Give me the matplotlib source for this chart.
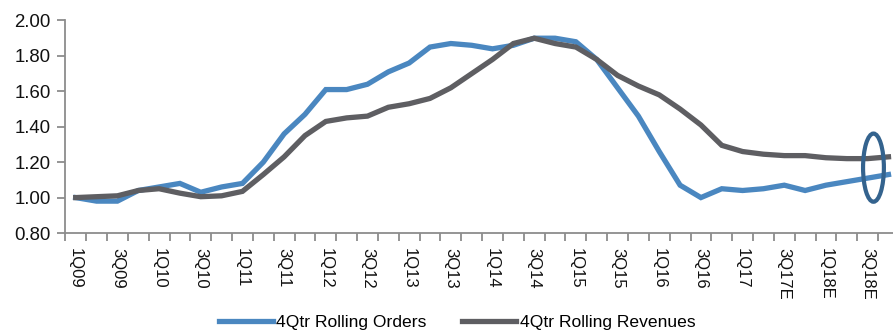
import matplotlib
matplotlib.use("Agg")
import matplotlib.pyplot as plt
from matplotlib.patches import Ellipse
from matplotlib.ticker import FixedLocator, FuncFormatter

plt.rcParams['font.family'] = ['Liberation Sans', 'DejaVu Sans']

# Quarterly categories (E = estimate)
quarters = [
    "1Q09", "2Q09", "3Q09", "4Q09", "1Q10", "2Q10", "3Q10", "4Q10",
    "1Q11", "2Q11", "3Q11", "4Q11", "1Q12", "2Q12", "3Q12", "4Q12",
    "1Q13", "2Q13", "3Q13", "4Q13", "1Q14", "2Q14", "3Q14", "4Q14",
    "1Q15", "2Q15", "3Q15", "4Q15", "1Q16", "2Q16", "3Q16", "4Q16",
    "1Q17", "2Q17", "3Q17E", "4Q17E", "1Q18E", "2Q18E", "3Q18E", "4Q18E",
]

# 4-quarter rolling orders, indexed to 1Q09 = 1.00
orders = [
    1.00, 0.98, 0.98, 1.04, 1.06, 1.08, 1.03, 1.06,
    1.08, 1.20, 1.36, 1.47, 1.61, 1.61, 1.64, 1.71,
    1.76, 1.85, 1.87, 1.86, 1.84, 1.86, 1.90, 1.90,
    1.88, 1.78, 1.62, 1.46, 1.26, 1.07, 1.00, 1.05,
    1.04, 1.05, 1.07, 1.04, 1.07, 1.09, 1.11, 1.13,
]

# 4-quarter rolling revenues, indexed to 1Q09 = 1.00
revenues = [
    1.00, 1.005, 1.01, 1.04, 1.05, 1.025, 1.005, 1.01,
    1.035, 1.13, 1.23, 1.35, 1.43, 1.45, 1.46, 1.51,
    1.53, 1.56, 1.62, 1.70, 1.78, 1.87, 1.90, 1.87,
    1.85, 1.78, 1.69, 1.63, 1.58, 1.50, 1.41, 1.295,
    1.26, 1.245, 1.237, 1.237, 1.225, 1.22, 1.22, 1.23,
]

y_ticks = [0.80, 1.00, 1.20, 1.40, 1.60, 1.80, 2.00]

W, H = 893, 335
fig = plt.figure(figsize=(W / 100, H / 100), dpi=100)
left_px, right_px = 65.3, 65.3 + 40 * 20.84
top_px, bottom_px = 20.5, 233.0
ax = fig.add_axes([left_px / W, 1 - bottom_px / H,
                   (right_px - left_px) / W, (bottom_px - top_px) / H])

x = list(range(len(quarters)))
blue = "#4A87C0"
grey = "#5E5E62"
l1, = ax.plot(x, orders, color=blue, lw=3.8, solid_joinstyle="miter",
              label="4Qtr Rolling Orders", zorder=3)
l2, = ax.plot(x, revenues, color=grey, lw=3.8, solid_joinstyle="miter",
              label="4Qtr Rolling Revenues", zorder=4)

# Highlight the latest estimates
ell = Ellipse((38.28, 1.169), width=1.0, height=0.385, fill=False,
              edgecolor="#34638E", lw=3.0, clip_on=False, zorder=5)
ax.add_patch(ell)

ax.set_xlim(-0.5, len(quarters) - 0.5)
ax.set_ylim(0.80, 2.00)

spine_color = "#8C8C8C"
for s in ("top", "right"):
    ax.spines[s].set_visible(False)
for s in ("left", "bottom"):
    ax.spines[s].set_color(spine_color)
    ax.spines[s].set_linewidth(1.3)

ax.set_yticks(y_ticks)
ax.yaxis.set_major_formatter(FuncFormatter(lambda v, p: f"{v:.2f}"))
ax.tick_params(axis="y", length=6, width=1.3, color=spine_color,
               labelsize=13.4, pad=4.3, labelcolor="#111111")

# Labels every other quarter, tick marks on quarter boundaries
ax.set_xticks(x[::2])
ax.set_xticklabels(quarters[::2], rotation=270, va="top", ha="center")
ax.xaxis.set_minor_locator(FixedLocator([i - 0.5 for i in range(len(quarters) + 1)]))
ax.tick_params(axis="x", which="major", length=0, pad=10.5, labelsize=12,
               labelcolor="#111111")
ax.tick_params(axis="x", which="minor", length=5.5, width=1.3, color=spine_color)

fig.legend(handles=[l1, l2], loc="center", bbox_to_anchor=(457 / W, 1 - 322 / H),
           ncol=2, frameon=False, fontsize=12.6, handlelength=3.1,
           handletextpad=0.2, columnspacing=2.0, borderaxespad=0)

fig.savefig("out.png", dpi=100)
